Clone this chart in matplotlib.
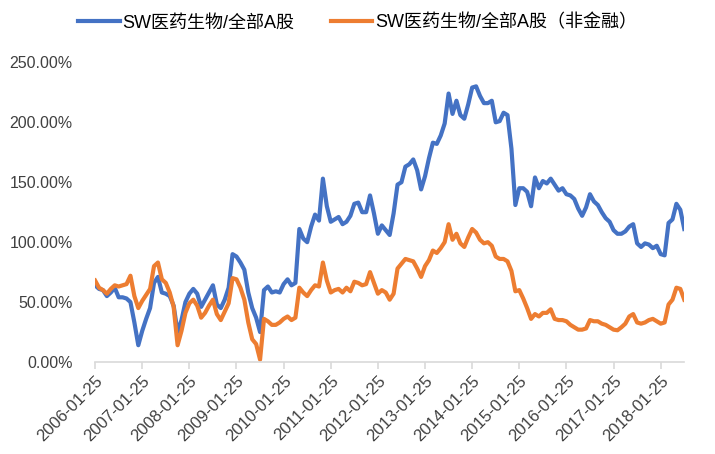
import pandas as pd
import matplotlib
matplotlib.use("Agg")
import matplotlib.pyplot as plt
from matplotlib.ticker import FuncFormatter

plt.rcParams['font.family'] = ['Liberation Sans', 'Noto Sans CJK SC', 'DejaVu Sans']

# --- data (monthly, in %) ---
first_month = "2006-01-01"   # points are dated the 25th of each month

pharma_vs_all = [
    64, 61, 60, 55, 58, 62, 54, 54, 53, 50,
    33, 14, 26, 36, 45, 66, 71, 58, 57, 55,
    47, 25, 35, 50, 57, 61, 57, 46, 52, 58,
    64, 48, 45, 52, 62, 90, 88, 83, 77, 58,
    45, 37, 25, 60, 63, 58, 59, 58, 65, 69,
    64, 66, 111, 103, 100, 113, 123, 118, 153, 130,
    117, 119, 121, 115, 117, 122, 132, 133, 125, 125,
    139, 124, 107, 114, 110, 106, 124, 148, 150, 163,
    165, 169, 160, 144, 155, 170, 183, 182, 189, 199,
    224, 207, 218, 206, 203, 215, 229, 230, 222, 216,
    216, 218, 200, 201, 208, 206, 178, 131, 145, 145,
    142, 130, 154, 145, 151, 149, 153, 148, 143, 145,
    140, 139, 136, 128, 122, 129, 140, 134, 131, 125,
    120, 117, 110, 107, 107, 109, 113, 115, 99, 96,
    99, 98, 95, 97, 90, 89, 116, 119, 132, 127,
    111,
]

pharma_vs_nonfin = [
    68, 62, 60, 57, 61, 64, 63, 64, 65, 72,
    55, 45, 51, 56, 61, 80, 83, 69, 66, 58,
    46, 14, 26, 41, 49, 52, 47, 37, 41, 47,
    52, 40, 35, 42, 49, 70, 69, 62, 52, 33,
    19, 15, 2, 36, 34, 31, 31, 33, 36, 38,
    35, 37, 62, 58, 55, 60, 64, 63, 83, 68,
    58, 60, 61, 58, 62, 59, 67, 66, 64, 65,
    75, 66, 57, 60, 58, 52, 57, 78, 82, 86,
    85, 84, 78, 71, 80, 85, 93, 91, 95, 100,
    115, 102, 107, 99, 96, 104, 111, 108, 102, 99,
    100, 97, 88, 86, 86, 84, 76, 59, 60, 53,
    45, 36, 40, 38, 41, 41, 44, 36, 35, 35,
    34, 31, 29, 27, 27, 28, 35, 34, 34, 32,
    31, 29, 27, 26.5, 29, 32, 38, 40, 33, 32,
    33, 35, 36, 34, 32, 33, 48, 52, 62, 61,
    52,
]

labels = ["SW医药生物/全部A股", "SW医药生物/全部A股（非金融）"]
colors = ["#4472C4", "#ED7D31"]

dates = pd.date_range(first_month, periods=len(pharma_vs_all), freq="MS") + pd.Timedelta(days=24)
date_labels = [d.strftime("%Y-%m-%d") for d in dates]

fig = plt.figure(figsize=(7.15, 4.54), dpi=100)
ax = fig.add_axes([0.133, 0.2026, 0.824, 0.66])

x = list(range(len(dates)))
ax.plot(x, [v / 100 for v in pharma_vs_all], color=colors[0], lw=3, label=labels[0])
ax.plot(x, [v / 100 for v in pharma_vs_nonfin], color=colors[1], lw=3, label=labels[1])

ax.set_xlim(0, len(x) - 1)
ax.set_ylim(0, 2.5)
ax.set_yticks([0, 0.5, 1.0, 1.5, 2.0, 2.5])
ax.yaxis.set_major_formatter(FuncFormatter(lambda v, _: f"{v:.2%}"))

ticks = [i for i in x if date_labels[i][5:7] == "01"]
ax.set_xticks(ticks)
ax.set_xticklabels([date_labels[i] for i in ticks], rotation=45, ha="right",
                   rotation_mode="anchor")

for s in ["top", "right", "left"]:
    ax.spines[s].set_visible(False)
ax.spines["bottom"].set_color("#D9D9D9")
ax.spines["bottom"].set_linewidth(1.2)
ax.tick_params(axis="x", length=5, color="#D9D9D9", width=1.2, labelsize=12,
               labelcolor="#404040", pad=3)
ax.tick_params(axis="y", length=0, labelsize=11.5, labelcolor="#404040", pad=16)

fig.legend(loc="upper center", bbox_to_anchor=(0.5, 1.005), ncol=2, frameon=False,
           handlelength=2.3, columnspacing=2.0, handletextpad=0.15,
           prop={"family": ["Liberation Sans", "Noto Sans CJK SC"], "size": 13})

fig.savefig("out.png", dpi=100)
